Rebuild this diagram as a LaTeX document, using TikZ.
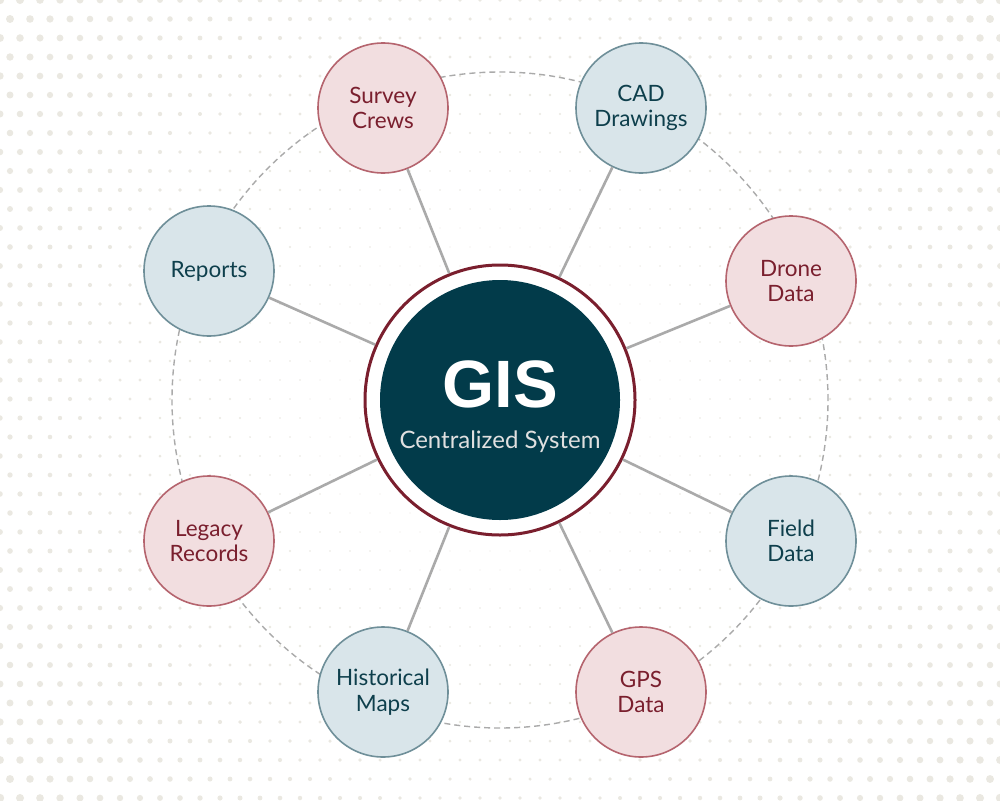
\documentclass[tikz,border=0pt]{standalone}
\usepackage{fontspec}
\setmainfont{Lato}
\newfontfamily\gisfont{Liberation Sans}
\definecolor{dotc}{HTML}{EAE8E1}
\definecolor{teal}{HTML}{023B4A}
\definecolor{ringred}{HTML}{7A1F2E}
\definecolor{pinkfill}{HTML}{F2DEE0}
\definecolor{pinkedge}{HTML}{B5646E}
\definecolor{pinktext}{HTML}{7A1F2E}
\definecolor{bluefill}{HTML}{D9E5EA}
\definecolor{blueedge}{HTML}{6F8F99}
\definecolor{bluetext}{HTML}{0E3F4C}
\definecolor{linkc}{HTML}{AAAAAA}
\tikzset{
  sat/.style={circle, minimum size=130pt, inner sep=0pt, align=center, line width=1.6pt,
    font=\fontsize{22.5}{25.5}\selectfont},
  pinksat/.style={sat, fill=pinkfill, draw=pinkedge, text=pinktext},
  bluesat/.style={sat, fill=bluefill, draw=blueedge, text=bluetext},
  link/.style={draw=linkc, line width=2.6pt},
}
\begin{document}
\begin{tikzpicture}[x=1pt,y=-1pt]
\useasboundingbox (0,0) rectangle (1000,800);
\fill[white] (0,0) rectangle (1000,800);
\foreach \i in {0,...,50}{
  \foreach \j in {0,...,42}{
    \pgfmathsetmacro\px{\i*20 + mod(\j,2)*10}
    \pgfmathsetmacro\py{\j*19}
    \pgfmathsetmacro\d{veclen(\px-500,\py-400)/640}
    \pgfmathsetmacro\rr{0.4+3.8*\d*\d}
    \fill[dotc] (\px,\py) circle[radius=\rr pt];
  }
}
\draw[linkc, line width=1.4pt, dash pattern=on 6pt off 4pt] (500,400) circle[radius=328pt];

\node[circle, minimum size=270pt, inner sep=0pt, fill=white, draw=ringred, line width=3pt] (ring) at (500,400) {};
\node[circle, minimum size=240pt, inner sep=0pt, fill=teal] (core) at (500,400) {};
\node[text=white, font=\gisfont\bfseries\fontsize{67}{67}\selectfont] (gis) at (500,384) {GIS};
\node[text=white!88!black, font=\fontsize{24}{26}\selectfont] (sub) at (500,442) {Centralized System};

\node[pinksat] (survey) at (383,108) {Survey\\Crews};
\node[bluesat] (cad) at (641,108) {CAD\\Drawings};
\node[pinksat] (drone) at (791,281) {Drone\\Data};
\node[bluesat] (field) at (791,541) {Field\\Data};
\node[pinksat] (gps) at (641,692) {GPS\\Data};
\node[bluesat] (hist) at (383,692) {Historical\\Maps};
\node[pinksat] (legacy) at (209,541) {Legacy\\Records};
\node[bluesat] (reports) at (209,271) {Reports};

\foreach \s in {survey,cad,drone,field,gps,hist,legacy,reports}{
  \path[link] (ring) -- (\s);
}
\end{tikzpicture}
\end{document}
